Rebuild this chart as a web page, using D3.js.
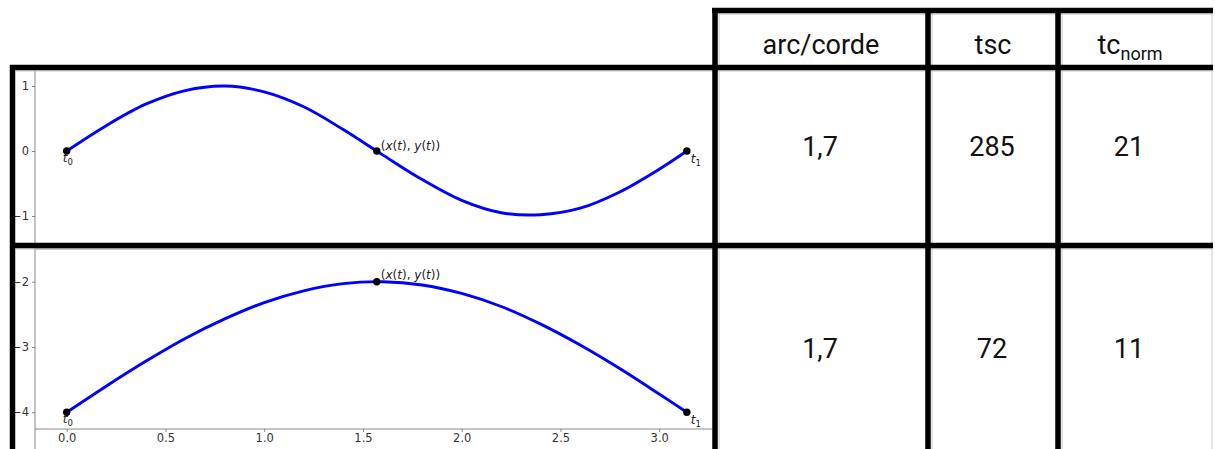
<!DOCTYPE html>
<html>
<head>
<meta charset="utf-8">
<script src="https://cdn.jsdelivr.net/npm/d3@7"></script>
<style>
  body { margin: 0; background: #fff; }
  .axis text { font-family: "DejaVu Sans", sans-serif; font-size: 11.5px; fill: #333; }
  .axis path, .axis line { stroke: #888; }
  .cell { font-family: Roboto, sans-serif; fill: #111; }
</style>
</head>
<body>
<div id="chart"></div>
<script>
// values
var tValues = [0, 0.2, 0.4, 0.6, 0.8, 1.0, 1.2, 1.4, 1.6, 1.8, 2.0, 2.2, 2.4, 2.6, 2.8, 3.0, 3.14];
var curveTop = [0, 0.39, 0.72, 0.93, 1.0, 0.91, 0.68, 0.33, -0.06, -0.44, -0.76, -0.95, -0.98, -0.88, -0.63, -0.28, 0];
var curveBottom = [-4, -3.60, -3.22, -2.87, -2.57, -2.32, -2.14, -2.03, -2.0, -2.05, -2.18, -2.38, -2.65, -2.97, -3.33, -3.72, -4.0];
var pointsTop = [{t: 0, y: 0}, {t: 1.57, y: 0}, {t: 3.14, y: 0}];
var pointsBottom = [{t: 0, y: -4}, {t: 1.57, y: -2}, {t: 3.14, y: -4}];
var yTicksTop = [1, 0, -1];
var yTicksBottom = [-2, -3, -4];
var xTicks = [0, 0.5, 1.0, 1.5, 2.0, 2.5, 3.0];
var headers = ["arc/corde", "tsc", "tc"];
var rowTop = ["1,7", "285", "21"];
var rowBottom = ["1,7", "72", "11"];

var W = 1215, H = 449;

var svg = d3.select("#chart").append("svg")
    .attr("width", W)
    .attr("height", H);

var x = d3.scaleLinear().domain([0, 3]).range([66.7, 659.2]);
var yTop = d3.scaleLinear().domain([1, -1]).range([86, 216]);
var yBot = d3.scaleLinear().domain([-2, -4]).range([281.7, 412.3]);

var defs = svg.append("defs");
defs.append("clipPath").attr("id", "clipTop")
  .append("rect").attr("x", 15).attr("y", 70).attr("width", 697).attr("height", 173);
defs.append("clipPath").attr("id", "clipBot")
  .append("rect").attr("x", 15).attr("y", 248).attr("width", 697).attr("height", 201);

function drawPlot(clipId, yScale, values, points, yTicks, withX, labelDy) {
  var g = svg.append("g").attr("clip-path", "url(#" + clipId + ")");

  //y axis
  g.append("g")
    .attr("class", "axis")
    .attr("transform", "translate(35,0)")
    .call(d3.axisLeft(yScale).tickValues(yTicks).tickSize(3).tickPadding(3).tickFormat(d3.format("d")))
    .select(".domain").attr("d", "M0,0V449");

  if (withX) {
    g.append("g")
      .attr("class", "axis")
      .attr("transform", "translate(0,429)")
      .call(d3.axisBottom(x).tickValues(xTicks).tickSize(3).tickPadding(2).tickFormat(d3.format(".1f")))
      .select(".domain").attr("d", "M35,0H712");
    g.append("line").attr("x1", 35).attr("x2", 712).attr("y1", 249).attr("y2", 249)
      .attr("stroke", "#888");
  }

  var line = d3.line()
    .x(function(d, i) { return x(tValues[i]); })
    .y(function(d) { return yScale(d); })
    .curve(d3.curveCatmullRom);

  g.append("path")
    .datum(values)
    .attr("fill", "none")
    .attr("stroke", "#0000ff")
    .attr("stroke-width", 2.9)
    .attr("d", line);

  g.selectAll("circle.pt")
    .data(points)
    .enter().append("circle")
    .attr("cx", function(d) { return x(d.t); })
    .attr("cy", function(d) { return yScale(d.y); })
    .attr("r", 3.7)
    .attr("fill", "#000");

  var lab = g.append("g").attr("font-family", "DejaVu Sans, sans-serif").attr("font-size", 12).attr("fill", "#222");

  function tLabel(px, py, sub) {
    var t = lab.append("text").attr("x", px).attr("y", py);
    t.append("tspan").attr("font-style", "italic").text("t");
    t.append("tspan").attr("font-size", 8.5).attr("dy", 3).text(sub);
  }
  tLabel(x(points[0].t) - 4, yScale(points[0].y) + 11, "0");
  tLabel(x(points[2].t) + 4, yScale(points[2].y) + 12, "1");

  var m = lab.append("text")
    .attr("x", x(points[1].t) + 4)
    .attr("y", yScale(points[1].y) + labelDy);
  m.append("tspan").text("(");
  m.append("tspan").attr("font-style", "italic").text("x");
  m.append("tspan").text("(");
  m.append("tspan").attr("font-style", "italic").text("t");
  m.append("tspan").text("), ");
  m.append("tspan").attr("font-style", "italic").text("y");
  m.append("tspan").text("(");
  m.append("tspan").attr("font-style", "italic").text("t");
  m.append("tspan").text("))");
}

drawPlot("clipTop", yTop, curveTop, pointsTop, yTicksTop, false, -1);
drawPlot("clipBot", yBot, curveBottom, pointsBottom, yTicksBottom, true, -3);

//table grid
var grid = svg.append("g");
var thin = "#c8c8c8";
[[719, 13, 719, 449], [932, 13, 932, 449], [1062, 13, 1062, 449], [1212, 13, 1212, 449],
 [718, 14, 1212, 14], [16, 71, 1212, 71], [16, 249, 1212, 249]].forEach(function(l) {
  grid.append("line").attr("x1", l[0]).attr("y1", l[1]).attr("x2", l[2]).attr("y2", l[3])
    .attr("stroke", thin).attr("stroke-width", 1);
});

var thick = [
  [712, 10.5, 1213, 10.5],
  [10, 67.5, 1213, 67.5],
  [10, 245.5, 1213, 245.5],
  [12.5, 65, 12.5, 449],
  [715, 8, 715, 449],
  [928, 8, 928, 449],
  [1058, 8, 1058, 449]
];
thick.forEach(function(l) {
  grid.append("line").attr("x1", l[0]).attr("y1", l[1]).attr("x2", l[2]).attr("y2", l[3])
    .attr("stroke", "#000").attr("stroke-width", 5.5);
});

//cell texts
var colCenters = [821, 993, 1130];

headers.forEach(function(h, i) {
  var t = svg.append("text").attr("class", "cell")
    .attr("x", colCenters[i]).attr("y", 54)
    .attr("text-anchor", "middle").attr("font-size", 27);
  t.append("tspan").text(h);
  if (i === 2) t.append("tspan").attr("font-size", 18).attr("dy", 6).text("norm");
});

rowTop.forEach(function(v, i) {
  svg.append("text").attr("class", "cell")
    .attr("x", colCenters[i] - 1).attr("y", 156)
    .attr("text-anchor", "middle").attr("font-size", 27).text(v);
});
rowBottom.forEach(function(v, i) {
  svg.append("text").attr("class", "cell")
    .attr("x", colCenters[i] - 1).attr("y", 358)
    .attr("text-anchor", "middle").attr("font-size", 27).text(v);
});
</script>
</body>
</html>
